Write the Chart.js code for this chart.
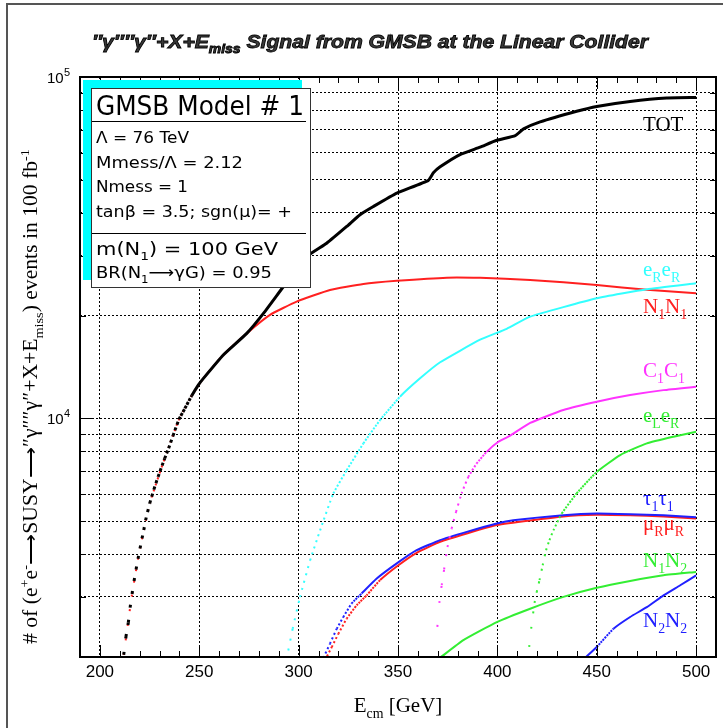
<!DOCTYPE html>
<html>
<head>
<meta charset="utf-8">
<script src="https://cdn.jsdelivr.net/npm/chart.js@4.4.1/dist/chart.umd.min.js"></script>
<style>
  html, body { margin: 0; padding: 0; background: #fff; }
  canvas { display: block; }
</style>
</head>
<body>
<canvas id="gmsbChart" width="723" height="728"></canvas>
<script>
// Ecm [GeV] / number of events per channel
const totE = [212.0, 213.1, 214.3, 215.2, 216.2, 217.2, 218.2, 219.2, 220.2, 221.2, 222.1, 223.0, 225.1, 227.2, 229.3, 232.6, 234.6, 236.8, 239.8, 242.8, 246.2, 249.5, 252.1, 262.1, 273.9, 282.3, 292.3, 304.1, 314.1, 324.2, 330.9, 337.6, 349.4, 365.3, 367.8, 371.2, 381.2, 391.3, 399.7, 409.0, 413.2, 421.5, 439.9, 450.0, 466.8, 485.2, 500.0];
const totN = [2030, 2290, 2520, 2790, 3060, 3340, 3610, 3880, 4160, 4450, 4710, 5030, 5640, 6200, 6750, 7630, 8170, 8900, 9930, 10700, 11650, 12520, 13100, 15340, 17740, 20300, 24300, 29800, 32600, 36500, 39500, 41750, 45700, 49800, 52400, 54550, 59260, 62300, 65250, 67300, 70460, 73880, 79370, 82000, 84800, 86800, 87100];

const n1n1E = [212.0, 216.2, 220.2, 225.1, 232.6, 239.8, 246.2, 252.1, 262.1, 273.9, 285.6, 299.0, 315.8, 332.6, 349.4, 374.6, 391.3, 416.5, 450.0, 475.2, 500.0];
const n1n1N = [2030, 3060, 4160, 5640, 7630, 9930, 11650, 13100, 15340, 17740, 20100, 21980, 23770, 24770, 25290, 25840, 25800, 25450, 24600, 23800, 23270];

const ereE = [294.8, 297.0, 300.7, 305.8, 310.8, 317.5, 324.2, 332.6, 341.0, 351.0, 361.1, 371.2, 391.3, 404.7, 416.5, 450.0, 475.2, 500.0];
const ereN = [2090, 2420, 3000, 3840, 4700, 6030, 7050, 8450, 9890, 11570, 13100, 14600, 17000, 18300, 19860, 22480, 23900, 24880];

const c1c1E = [369.8, 370.8, 372.0, 373.2, 374.9, 377.0, 379.2, 382.0, 385.4, 389.6, 394.6, 400.5, 406.0, 416.5, 433.2, 450.0, 466.8, 483.6, 500.0];
const c1c1N = [2450, 2880, 3250, 3610, 4200, 4760, 5320, 6030, 6740, 7380, 7980, 8540, 8870, 9700, 10580, 11190, 11700, 12100, 12380];

const eleE = [416.0, 417.0, 418.7, 419.8, 421.2, 422.8, 424.5, 426.2, 428.2, 432.4, 439.9, 450.0, 461.8, 475.2, 488.6, 500.0];
const eleN = [2140, 2420, 2880, 3100, 3360, 3715, 4110, 4400, 4700, 5265, 6030, 6970, 7810, 8450, 8840, 9140];

const tauE = [312.5, 315.8, 319.2, 322.5, 326.7, 331.7, 339.3, 349.4, 359.4, 371.2, 384.6, 399.7, 408.0, 433.2, 450.0, 466.8, 483.6, 500.0];
const tauN = [1990, 2190, 2420, 2620, 2870, 3070, 3395, 3760, 4110, 4400, 4650, 4920, 5030, 5205, 5265, 5240, 5200, 5130];

const muE = [313.3, 316.7, 320.0, 324.2, 329.2, 334.2, 341.0, 350.2, 359.4, 371.2, 384.6, 399.7, 433.2, 450.0, 466.8, 483.6, 500.0];
const muN = [1960, 2140, 2340, 2590, 2835, 3030, 3360, 3715, 4040, 4350, 4600, 4870, 5160, 5220, 5200, 5160, 5090];

const n1n2E = [371.2, 382.9, 399.7, 416.5, 433.2, 450.0, 466.8, 483.6, 500.0];
const n1n2N = [1990, 2240, 2530, 2770, 3000, 3190, 3340, 3470, 3550];

const n2n2E = [444.2, 450.0, 458.4, 466.8, 475.2, 483.6, 492.0, 500.0];
const n2n2N = [1990, 2140, 2420, 2620, 2800, 3030, 3245, 3470];

const xMajor = [200, 250, 300, 350, 400, 450, 500];
const xLabels = ['200', '250', '300', '350', '400', '450', '500'];
const yTicks = [2000, 3000, 4000, 5000, 6000, 7000, 8000, 9000, 10000, 20000, 30000, 40000, 50000, 60000, 70000, 80000, 90000, 100000];
const yDecades = [10000, 100000];
const yDecadeExp = ['4', '5'];

const pts = (xs, ys) => xs.map((x, i) => ({ x: x, y: ys[i] }));

// the curves are made of points one GeV apart; where they climb fast the points separate
function dots(w) {
  return {
    borderDash: sc => {
      const d = sc.chart.data.datasets[sc.datasetIndex].data;
      const de = d[sc.p1DataIndex].x - d[sc.p0DataIndex].x;
      if (!(de > 0)) return undefined;
      const step = Math.hypot(sc.p1.x - sc.p0.x, sc.p1.y - sc.p0.y) / de;
      return step > w + 0.8 ? [w, step - w] : undefined;
    }
  };
}

function curve(label, xs, ys, color, w) {
  return {
    label: label,
    data: pts(xs, ys),
    borderColor: color,
    backgroundColor: color,
    borderWidth: w,
    pointRadius: 0,
    showLine: true,
    tension: 0.15,
    segment: dots(w)
  };
}

// rich text: parts are [text, '' | 'sub' | 'sup']
function rich(c, x, y, parts, size, family, style, draw, stroke) {
  let cx = x;
  for (const [t, m] of parts) {
    const s = m ? size * 0.66 : size;
    c.font = style + ' ' + s + 'px ' + family;
    const dy = m === 'sub' ? size * 0.3 : m === 'sup' ? -size * 0.42 : 0;
    if (draw) {
      c.fillText(t, cx, y + dy);
      if (stroke) c.strokeText(t, cx, y + dy);
    }
    cx += c.measureText(t).width;
  }
  return cx - x;
}

// same, squeezed or stretched to a given width
function richFit(c, x, y, parts, size, family, style, width, stroke) {
  const w = rich(c, 0, 0, parts, size, family, style, false);
  c.save();
  c.translate(x, y);
  c.scale(width / w, 1);
  rich(c, 0, 0, parts, size, family, style, true, stroke);
  c.restore();
}

const chartDecor = {
  id: 'chartDecor',
  beforeDraw(chart) {
    const c = chart.ctx;
    c.save();
    c.fillStyle = '#fff';
    c.fillRect(0, 0, chart.width, chart.height);
    c.strokeStyle = '#555';
    c.lineWidth = 2;
    c.beginPath();
    c.moveTo(7, 728);
    c.lineTo(7, 4);
    c.lineTo(723, 4);
    c.stroke();
    c.restore();
  },
  afterDatasetsDraw(chart) {
    const c = chart.ctx;
    const a = chart.chartArea;
    const xs = chart.scales.x, ys = chart.scales.y;
    c.save();

    // ticks, pointing inward
    c.strokeStyle = '#000';
    c.lineWidth = 1;
    c.beginPath();
    for (let e = 190; e <= 510; e += 10) {
      const px = Math.round(xs.getPixelForValue(e)) + 0.5;
      const len = e % 50 === 0 ? 12 : 6;
      c.moveTo(px, a.bottom); c.lineTo(px, a.bottom - len);
      c.moveTo(px, a.top); c.lineTo(px, a.top + len);
    }
    yTicks.forEach(v => {
      const py = Math.round(ys.getPixelForValue(v)) + 0.5;
      const len = yDecades.includes(v) ? 12 : 6;
      c.moveTo(a.left, py); c.lineTo(a.left + len, py);
      c.moveTo(a.right, py); c.lineTo(a.right - len, py);
    });
    c.stroke();

    // info box
    c.fillStyle = '#00ffff';
    c.fillRect(83, 80, 219, 200);
    c.fillStyle = '#fff';
    c.fillRect(91, 88, 220, 200);
    c.strokeStyle = '#333';
    c.lineWidth = 1;
    c.strokeRect(91.5, 88.5, 219, 199);
    c.strokeStyle = '#000';
    c.beginPath();
    c.moveTo(92, 121.5); c.lineTo(306, 121.5);
    c.moveTo(92, 233.5); c.lineTo(306, 233.5);
    c.stroke();

    c.fillStyle = '#000';
    c.textAlign = 'left';
    c.textBaseline = 'alphabetic';
    const bf = '"DejaVu Sans", Verdana, sans-serif';
    richFit(c, 96, 115, [['GMSB Model # 1', '']], 26, bf, '', 208);
    richFit(c, 96, 143, [['\u039B = 76 TeV', '']], 16, bf, '', 93);
    richFit(c, 96, 168, [['Mmess/\u039B = 2.12', '']], 16, bf, '', 147);
    richFit(c, 96, 192, [['Nmess = 1', '']], 16, bf, '', 92);
    richFit(c, 96, 217, [['tan\u03B2 = 3.5; sgn(\u03BC)= +', '']], 16, bf, '', 196);
    richFit(c, 96, 255, [['m(N', ''], ['1', 'sub'], [') = 100 GeV', '']], 17, bf, '', 182);
    richFit(c, 96, 278, [['BR(N', ''], ['1', 'sub'], ['\u27F6\u03B3G) = 0.95', '']], 16, bf, '', 176);

    // curve labels
    const sf = '"Liberation Serif", "Times New Roman", serif';
    const labels = [
      [[['TOT', '']], '#000', 131],
      [[['e', ''], ['R', 'sub'], ['e', ''], ['R', 'sub']], '#33ffff', 276],
      [[['N', ''], ['1', 'sub'], ['N', ''], ['1', 'sub']], '#ff2020', 313],
      [[['C', ''], ['1', 'sub'], ['C', ''], ['1', 'sub']], '#ff33ff', 377],
      [[['e', ''], ['L', 'sub'], ['e', ''], ['R', 'sub']], '#33ee33', 422],
      [[['\u03C4', ''], ['1', 'sub'], ['\u03C4', ''], ['1', 'sub']], '#2020ff', 505],
      [[['\u03BC', ''], ['R', 'sub'], ['\u03BC', ''], ['R', 'sub']], '#ff2020', 530],
      [[['N', ''], ['1', 'sub'], ['N', ''], ['2', 'sub']], '#33ee33', 567],
      [[['N', ''], ['2', 'sub'], ['N', ''], ['2', 'sub']], '#2020ff', 627]
    ];
    labels.forEach(([parts, col, y]) => {
      c.fillStyle = col;
      rich(c, 643, y, parts, 21, sf, '', true);
    });

    // frame
    c.strokeStyle = '#000';
    c.lineWidth = 2;
    c.strokeRect(a.left, a.top, a.right - a.left, a.bottom - a.top);

    // tick labels
    c.fillStyle = '#000';
    c.font = '17px "Liberation Sans", Arial, sans-serif';
    c.textAlign = 'center';
    xMajor.forEach((v, i) => c.fillText(xLabels[i], xs.getPixelForValue(v), 677));
    c.textAlign = 'left';
    yDecades.forEach((v, i) => {
      const py = ys.getPixelForValue(v);
      c.font = '15px "Liberation Sans", Arial, sans-serif';
      c.fillText('10', 47, py + 6);
      c.font = '11px "Liberation Sans", Arial, sans-serif';
      c.fillText(yDecadeExp[i], 64, py - 1);
    });

    // axis titles
    const xw = rich(c, 0, 0, [['E', ''], ['cm', 'sub'], [' [GeV]', '']], 21, sf, '', false);
    rich(c, 398 - xw / 2, 712, [['E', ''], ['cm', 'sub'], [' [GeV]', '']], 21, sf, '', true);

    const yParts = [['# of (e', ''], ['+', 'sup'], ['e', ''], ['-', 'sup'], ['\u27F6SUSY\u27F6\u2033\u03B3\u2033\u2033\u03B3\u2033+X+E', ''], ['miss', 'sub'], [') events in 100 fb', ''], ['-1', 'sup']];
    c.save();
    c.translate(37, 397);
    c.rotate(-Math.PI / 2);
    richFit(c, -247, 0, yParts, 20, sf, '', 495);
    c.restore();

    // title
    const tf = '"Liberation Sans", Arial, sans-serif';
    const tParts = [['\u2033\u03B3\u2033\u2033\u03B3\u2033+X+E', ''], ['miss', 'sub'], [' Signal from GMSB at the Linear Collider', '']];
    c.fillStyle = '#3a3a3a';
    c.strokeStyle = '#000';
    c.lineWidth = 0.8;
    richFit(c, 92, 48, tParts, 18, tf, 'italic bold', 556, true);

    c.restore();
  }
};

const ctx = document.getElementById('gmsbChart').getContext('2d');

const gmsbChart = new Chart(ctx, {
  type: 'scatter',
  data: {
    datasets: [
      curve('TOT', totE, totN, '#000000', 3),
      curve('eReR', ereE, ereN, '#33ffff', 2),
      curve('N1N1', n1n1E, n1n1N, '#ff2020', 2),
      curve('C1C1', c1c1E, c1c1N, '#ff33ff', 2),
      curve('eLeR', eleE, eleN, '#33ee33', 2),
      curve('tau1tau1', tauE, tauN, '#2020ff', 2),
      curve('muRmuR', muE, muN, '#ff2020', 2),
      curve('N1N2', n1n2E, n1n2N, '#33ee33', 2),
      curve('N2N2', n2n2E, n2n2N, '#2020ff', 2)
    ]
  },
  options: {
    responsive: false,
    animation: false,
    layout: { padding: { left: 80, top: 77, right: 7, bottom: 71 } },
    plugins: {
      legend: { display: false },
      tooltip: { enabled: false }
    },
    scales: {
      x: {
        type: 'linear',
        min: 190,
        max: 510,
        afterBuildTicks: s => { s.ticks = xMajor.map(v => ({ value: v })); },
        ticks: { display: false },
        grid: { color: '#000', lineWidth: 1, drawTicks: false },
        border: { display: false, dash: [2, 2] }
      },
      y: {
        type: 'logarithmic',
        min: 2000,
        max: 100000,
        afterBuildTicks: s => { s.ticks = yTicks.map(v => ({ value: v })); },
        ticks: { display: false },
        grid: { color: '#000', lineWidth: 1, drawTicks: false },
        border: { display: false, dash: [2, 2] }
      }
    }
  },
  plugins: [chartDecor]
});
</script>
</body>
</html>
